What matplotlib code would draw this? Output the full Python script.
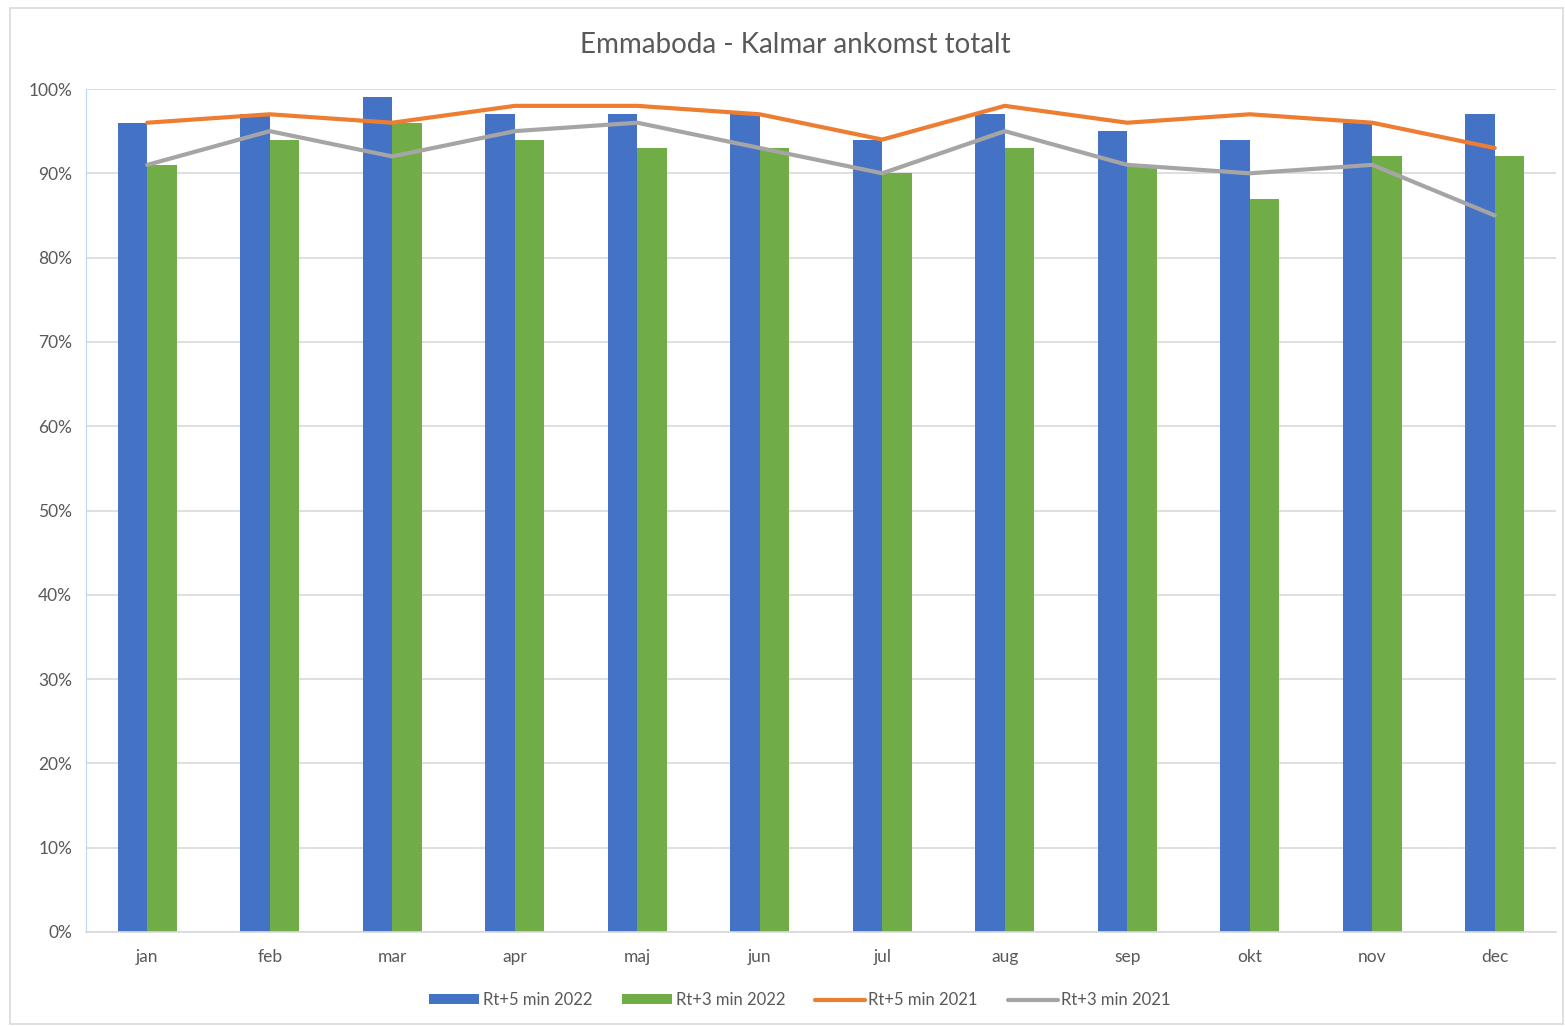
import numpy as np
import matplotlib
matplotlib.use("Agg")
import matplotlib.pyplot as plt
from matplotlib.patches import Rectangle
from matplotlib.ticker import FuncFormatter

months = ["jan", "feb", "mar", "apr", "maj", "jun", "jul", "aug", "sep", "okt", "nov", "dec"]
rt5_2022 = [96, 97, 99, 97, 97, 97, 94, 97, 95, 94, 96, 97]
rt3_2022 = [91, 94, 96, 94, 93, 93, 90, 93, 91, 87, 92, 92]
rt5_2021 = [96, 97, 96, 98, 98, 97, 94, 98, 96, 97, 96, 93]
rt3_2021 = [91, 95, 92, 95, 96, 93, 90, 95, 91, 90, 91, 85]

plt.rcParams['font.family'] = ['Lato', 'DejaVu Sans']
txt = "#595959"

fig = plt.figure(figsize=(15.65, 10.26), dpi=100)
# chart border
fig.patches.append(Rectangle((10 / 1565, 0.002), 1553 / 1565, 1 - 10 / 1026, transform=fig.transFigure,
                             fill=False, edgecolor="#d9d9d9", linewidth=1.2))
ax = fig.add_axes([86 / 1565, 1 - 932 / 1026, (1556 - 86) / 1565, (932 - 89) / 1026])

x = np.arange(len(months))
w = 0.24
b1 = ax.bar(x - w / 2, rt5_2022, w, color="#4472C4", label="Rt+5 min 2022", zorder=2)
b2 = ax.bar(x + w / 2, rt3_2022, w, color="#70AD47", label="Rt+3 min 2022", zorder=2)
l1, = ax.plot(x, rt5_2021, color="#ED7D31", lw=3, label="Rt+5 min 2021", zorder=3, solid_capstyle="round")
l2, = ax.plot(x, rt3_2021, color="#A5A5A5", lw=3, label="Rt+3 min 2021", zorder=3, solid_capstyle="round")

ax.set_ylim(0, 100)
ax.set_xlim(-0.5, len(months) - 0.5)
ax.set_yticks(range(0, 101, 10))
ax.yaxis.set_major_formatter(FuncFormatter(lambda v, p: f"{int(v)}%"))
ax.set_xticks(x)
ax.set_xticklabels(months)
ax.grid(axis="y", color="#d9d9d9", lw=1.2, zorder=0)
ax.tick_params(axis="both", length=0, labelsize=12.5, colors=txt)
ax.tick_params(axis="x", pad=12)
ax.tick_params(axis="y", pad=10)
for s in ["top", "right"]:
    ax.spines[s].set_visible(False)
ax.spines["left"].set_color("#bdd7ee")
ax.spines["bottom"].set_color("#d9d9d9")
ax.spines["bottom"].set_linewidth(1.2)

fig.text(795 / 1565, 1 - 45 / 1026, "Emmaboda - Kalmar ankomst totalt", ha="center", va="center",
         fontsize=20, color=txt)

leg = fig.legend([b1, b2, l1, l2], [h.get_label() for h in [b1, b2, l1, l2]],
                 loc="center", bbox_to_anchor=(800 / 1565, 1 - 1000 / 1026), ncol=4, frameon=False,
                 fontsize=12, labelcolor=txt, handlelength=3, handleheight=0.5, handletextpad=0.2,
                 columnspacing=1.8)

fig.savefig("out.png", dpi=100)
